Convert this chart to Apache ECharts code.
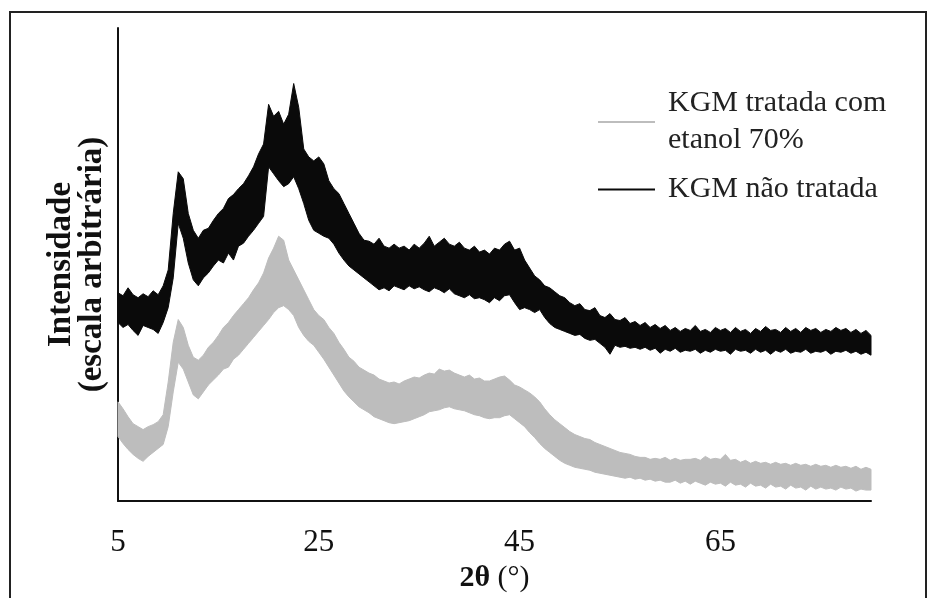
<!DOCTYPE html>
<html>
<head>
<meta charset="utf-8">
<script src="https://cdn.jsdelivr.net/npm/echarts@6/dist/echarts.min.js"></script>
<style>
  html, body { margin: 0; padding: 0; background: #fff; }
  #chart { width: 929px; height: 598px; }
</style>
</head>
<body>
<div id="chart"></div>
<script>
// 2θ sampled every 0.5° from 5 to 80
var startAngle = 5;
var angleStep = 0.5;

// band edges (upper / lower) of the noisy XRD traces, arbitrary intensity
var blackTop = [210,207,215,208,205,209,206,212,208,217, 233,290,332,325,290,273,265,273,275,283,
  290,295,305,309,315,320,328,337,350,360, 400,388,393,380,390,421,397,355,347,343,
  347,340,323,315,310,300,290,280,270,263, 262,259,265,257,255,259,255,257,253,259,
  255,260,267,257,261,265,259,257,261,255, 253,257,251,253,249,255,253,259,262,253,
  255,243,235,227,223,217,215,211,207,205, 200,197,199,193,192,195,187,185,189,183,
  182,185,179,181,177,180,175,178,174,177, 172,175,171,174,172,177,171,173,170,175,
  172,174,170,175,171,173,169,174,171,176, 172,173,170,175,171,174,170,175,172,174,
  170,173,171,175,172,174,170,173,169,172, 167];
var blackBottom = [180,175,178,172,167,177,175,173,169,180, 195,225,280,265,240,223,217,225,230,237,
  243,240,250,243,257,260,267,273,280,287, 337,330,323,317,320,327,315,300,283,273,
  270,267,265,259,250,243,237,233,229,225, 221,217,213,215,212,217,215,213,217,214,
  216,213,211,215,213,210,214,209,207,205, 208,204,205,203,200,205,202,207,208,200,
  193,195,193,190,193,185,179,175,173,171, 169,167,168,164,162,163,159,155,148,157,
  155,156,154,155,153,155,152,154,149,153, 151,154,150,152,151,153,149,152,150,153,
  151,152,148,153,151,152,149,153,150,152, 148,152,150,153,149,151,150,153,149,151,
  150,152,148,151,150,152,149,151,148,150, 147];
var greyTop = [100,93,85,78,75,72,75,77,80,87, 120,160,183,175,157,145,142,147,155,160,
  167,175,180,187,193,199,205,213,220,230, 245,255,267,263,243,233,223,213,203,193,
  187,183,175,169,160,153,145,141,135,132, 129,127,123,121,119,120,118,121,123,125,
  124,127,129,128,133,131,132,129,127,125, 127,123,124,121,121,123,125,126,122,117,
  115,112,109,105,100,93,87,82,78,74, 70,67,65,63,62,59,57,55,53,51,
  49,48,47,45,44,44,42,43,42,44, 41,43,41,42,42,43,41,45,42,43,
  42,47,41,42,39,41,38,40,38,39, 37,39,37,38,36,38,36,37,35,37,
  35,36,34,36,34,35,33,35,32,34, 32];
var greyBottom = [65,58,52,47,43,40,45,49,53,57, 75,110,140,133,120,107,103,110,117,122,
  127,133,135,143,147,153,159,165,171,177, 183,190,195,197,193,187,175,167,161,157,
  150,143,135,127,119,111,105,100,95,92, 89,85,83,81,79,78,79,80,81,83,
  85,87,90,91,92,94,95,93,92,91, 89,87,86,84,83,84,84,86,87,83,
  79,75,69,64,58,53,49,45,41,38, 36,34,33,32,31,29,28,27,26,25,
  24,23,24,22,23,21,22,20,21,19, 19,21,18,20,17,20,18,16,19,17,
  18,15,19,16,17,14,18,15,16,13, 17,14,15,12,16,13,14,11,15,12,
  14,12,13,11,14,12,13,10,12,11, 11];

var xTicks = [5, 25, 45, 65];
var nameTreated = 'KGM tratada com\netanol 70%';
var nameRaw = 'KGM não tratada';

// one data row per sample: [2θ, upper, lower]
function rows(top, bottom) {
  return top.map(function (v, i) { return [startAngle + i * angleStep, v, bottom[i]]; });
}

// draws the whole noisy trace as one filled ribbon through the axis scales
function band(name, top, bottom, color) {
  var data = rows(top, bottom);
  return {
    name: name,
    type: 'custom',
    silent: true,
    itemStyle: { color: color },
    encode: { x: 0, y: [1, 2] },
    data: data,
    renderItem: function (params, api) {
      if (params.dataIndex !== 0) return;
      var upper = data.map(function (d) { return api.coord([d[0], d[1]]); });
      var lower = data.map(function (d) { return api.coord([d[0], d[2]]); }).reverse();
      return {
        type: 'polygon',
        shape: { points: upper.concat(lower) },
        style: { fill: color, stroke: color, lineWidth: 1 }
      };
    }
  };
}

var serif = 'Liberation Serif, Times New Roman, serif';
var chart = echarts.init(document.getElementById('chart'));
var option = {
  backgroundColor: '#fff',
  animation: false,
  grid: { left: 118, right: 58, top: 28, bottom: 93 },
  graphic: [{
    type: 'rect',
    shape: { x: 10, y: 12, width: 916, height: 600 },
    style: { fill: 'none', stroke: '#222', lineWidth: 2 },
    z: -1
  }],
  legend: {
    orient: 'vertical',
    left: 593,
    top: 80,
    itemGap: 12,
    itemWidth: 57,
    itemHeight: 2,
    data: [{ name: nameTreated, icon: 'rect' }, { name: nameRaw, icon: 'rect' }],
    textStyle: {
      fontFamily: serif,
      fontSize: 30,
      lineHeight: 37,
      color: '#222',
      padding: [0, 0, 0, 8]
    },
    selectedMode: false
  },
  xAxis: {
    type: 'value',
    min: 5,
    max: 80,
    interval: 20,
    name: '{b|2θ} (°)',
    nameLocation: 'middle',
    nameGap: 62,
    nameTextStyle: {
      fontFamily: serif,
      fontSize: 30,
      color: '#111',
      rich: { b: { fontFamily: serif, fontSize: 30, fontWeight: 'bold', color: '#111' } }
    },
    axisLine: { lineStyle: { color: '#111', width: 2 } },
    axisTick: { show: false },
    splitLine: { show: false },
    axisLabel: {
      showMaxLabel: false,
      margin: 26,
      fontFamily: serif,
      fontSize: 31,
      color: '#111',
      formatter: function (v) { return xTicks.indexOf(v) >= 0 ? String(v) : ''; }
    }
  },
  yAxis: {
    type: 'value',
    min: 0,
    max: 477,
    name: 'Intensidade\n(escala arbitrária)',
    nameLocation: 'middle',
    nameGap: 10,
    nameRotate: 90,
    nameTextStyle: {
      fontFamily: serif,
      fontSize: 33,
      fontWeight: 'bold',
      lineHeight: 31,
      color: '#111'
    },
    axisLine: { show: true, lineStyle: { color: '#111', width: 2 } },
    axisTick: { show: false },
    axisLabel: { show: false },
    splitLine: { show: false }
  },
  series: [
    band(nameTreated, greyTop, greyBottom, '#bdbdbd'),
    band(nameRaw, blackTop, blackBottom, '#0a0a0a')
  ]
};
chart.setOption(option);
</script>
</body>
</html>
